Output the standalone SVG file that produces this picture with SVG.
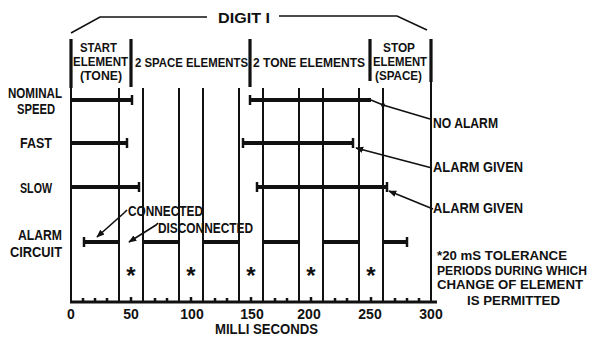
<svg xmlns="http://www.w3.org/2000/svg" width="592" height="338" viewBox="0 0 592 338">
<defs>
<style>
text{font-family:"Liberation Sans","DejaVu Sans",Arial,sans-serif;font-weight:bold;fill:#111;font-size:14px}
.c{text-anchor:middle}
.hd{font-size:12.5px}
.mid{font-size:12.5px}
.nt{font-size:12.5px}
.g{stroke:#111;stroke-width:2;fill:none}
.h{stroke:#111;stroke-width:3.2;fill:none}
.b{stroke:#111;stroke-width:4;fill:none}
.cap{stroke:#111;stroke-width:2.5;fill:none}
.ld{stroke:#111;stroke-width:1.6;fill:none}
.st{font-size:24px}
</style>
<marker id="ah" viewBox="0 0 10 10" refX="9" refY="5" markerWidth="8" markerHeight="8" orient="auto-start-reverse" markerUnits="userSpaceOnUse">
<path d="M0,1 L10,5 L0,9 z" fill="#111"/>
</marker>
</defs>
<rect width="592" height="338" fill="#fff"/>

<g id="digit-bracket">
<polyline class="ld" points="71,33 100,17 207,17"/>
<polyline class="ld" points="279,16 397,16 427,30"/>
<text x="218" y="23" textLength="52" lengthAdjust="spacingAndGlyphs" font-size="15">DIGIT I</text>
</g>

<g id="header">
<line class="h" x1="71" y1="39" x2="71" y2="88"/>
<line class="h" x1="131" y1="39" x2="131" y2="87"/>
<line class="h" x1="250" y1="39" x2="250" y2="87"/>
<line class="h" x1="370" y1="39" x2="370" y2="81"/>
<line class="h" x1="431" y1="39" x2="431" y2="82"/>
<text class="hd" x="80" y="52" textLength="37" lengthAdjust="spacingAndGlyphs">START</text>
<text class="hd" x="73" y="66" textLength="55" lengthAdjust="spacingAndGlyphs">ELEMENT</text>
<text class="hd" x="80" y="80" textLength="42" lengthAdjust="spacingAndGlyphs">(TONE)</text>
<text class="mid" x="135" y="67" textLength="113" lengthAdjust="spacingAndGlyphs">2 SPACE ELEMENTS</text>
<text class="mid" x="253" y="67" textLength="112" lengthAdjust="spacingAndGlyphs">2 TONE ELEMENTS</text>
<text class="hd" x="383" y="52" textLength="32" lengthAdjust="spacingAndGlyphs">STOP</text>
<text class="hd" x="373" y="66" textLength="54" lengthAdjust="spacingAndGlyphs">ELEMENT</text>
<text class="hd" x="375" y="80" textLength="47" lengthAdjust="spacingAndGlyphs">(SPACE)</text>
</g>

<g id="grid">
<line class="g" x1="71" y1="86" x2="71" y2="302"/>
<line class="g" x1="119" y1="88" x2="119" y2="302"/>
<line class="g" x1="143" y1="88" x2="143" y2="302"/>
<line class="g" x1="179" y1="88" x2="179" y2="302"/>
<line class="g" x1="203" y1="88" x2="203" y2="302"/>
<line class="g" x1="239" y1="88" x2="239" y2="302"/>
<line class="g" x1="263" y1="88" x2="263" y2="302"/>
<line class="g" x1="299" y1="88" x2="299" y2="302"/>
<line class="g" x1="323" y1="88" x2="323" y2="302"/>
<line class="g" x1="359" y1="88" x2="359" y2="302"/>
<line class="g" x1="383" y1="88" x2="383" y2="302"/>
<line class="g" x1="431" y1="80" x2="431" y2="302"/>
</g>

<g id="row-labels">
<text x="8" y="98" textLength="54" lengthAdjust="spacingAndGlyphs">NOMINAL</text>
<text x="17" y="114" textLength="38" lengthAdjust="spacingAndGlyphs">SPEED</text>
<text x="20" y="148" textLength="32" lengthAdjust="spacingAndGlyphs">FAST</text>
<text x="20" y="193" textLength="32" lengthAdjust="spacingAndGlyphs">SLOW</text>
<text x="18" y="240" textLength="44" lengthAdjust="spacingAndGlyphs">ALARM</text>
<text x="10" y="257" textLength="52" lengthAdjust="spacingAndGlyphs">CIRCUIT</text>
</g>

<g id="nominal-speed">
<line class="b" x1="71" y1="100" x2="132" y2="100"/>
<line class="cap" x1="132" y1="95" x2="132" y2="105"/>
<line class="cap" x1="250" y1="95" x2="250" y2="105"/>
<line class="b" x1="250" y1="100" x2="371" y2="100"/>
</g>

<g id="fast">
<line class="b" x1="71" y1="143" x2="127" y2="143"/>
<line class="cap" x1="127" y1="138" x2="127" y2="148"/>
<line class="cap" x1="243" y1="138" x2="243" y2="148"/>
<line class="b" x1="243" y1="143" x2="353" y2="143"/>
<line class="cap" x1="353" y1="138" x2="353" y2="148"/>
</g>

<g id="slow">
<line class="b" x1="71" y1="187" x2="139" y2="187"/>
<line class="cap" x1="139" y1="182" x2="139" y2="192"/>
<line class="cap" x1="257" y1="182" x2="257" y2="192"/>
<line class="b" x1="257" y1="187" x2="387" y2="187"/>
<line class="cap" x1="387" y1="182" x2="387" y2="192"/>
</g>

<g id="alarm-circuit">
<line class="cap" x1="84" y1="237" x2="84" y2="247"/>
<line class="b" x1="84" y1="242" x2="120" y2="242"/>
<line class="b" x1="143" y1="242" x2="179" y2="242"/>
<line class="b" x1="203" y1="242" x2="239" y2="242"/>
<line class="b" x1="263" y1="242" x2="299" y2="242"/>
<line class="b" x1="323" y1="242" x2="359" y2="242"/>
<line class="b" x1="383" y1="242" x2="407" y2="242"/>
<line class="cap" x1="407" y1="237" x2="407" y2="247"/>
</g>

<g id="tolerance-marks">
<text class="c st" x="131" y="284">*</text>
<text class="c st" x="191" y="284">*</text>
<text class="c st" x="251" y="284">*</text>
<text class="c st" x="311" y="284">*</text>
<text class="c st" x="371" y="284">*</text>
</g>

<g id="callouts">
<text x="128" y="216" textLength="75" lengthAdjust="spacingAndGlyphs">CONNECTED</text>
<text x="158" y="233" textLength="95" lengthAdjust="spacingAndGlyphs">DISCONNECTED</text>
<text x="433" y="128" textLength="65" lengthAdjust="spacingAndGlyphs">NO ALARM</text>
<text x="433" y="172" textLength="90" lengthAdjust="spacingAndGlyphs">ALARM GIVEN</text>
<text x="433" y="213" textLength="90" lengthAdjust="spacingAndGlyphs">ALARM GIVEN</text>
</g>

<g id="connectors">
<polyline class="ld" points="371,100 383,105 430,119"/>
<circle cx="383" cy="105" r="2" fill="#111"/>
<line class="ld" x1="432" y1="168" x2="356" y2="148" marker-end="url(#ah)"/>
<line class="ld" x1="433" y1="209" x2="389" y2="191" marker-end="url(#ah)"/>
<polyline class="ld" points="127,210 124,213 97,237" marker-end="url(#ah)"/>
<polyline class="ld" points="158,223 156,225 129,242" marker-end="url(#ah)"/>
</g>

<g id="axis">
<line stroke="#111" stroke-width="3" x1="70" y1="302" x2="437" y2="302"/>
<path class="cap" d="M83,302v-4M95,302v-4M107,302v-4M131,302v-5M155,302v-4M167,302v-4M191,302v-5M215,302v-4M227,302v-4M251,302v-5M275,302v-4M287,302v-4M311,302v-5M335,302v-4M347,302v-4M371,302v-5M395,302v-4M407,302v-4M419,302v-4"/>
<text class="c" x="71" y="319">0</text>
<text class="c" x="131" y="319">50</text>
<text class="c" x="192" y="319">100</text>
<text class="c" x="252" y="319">150</text>
<text class="c" x="309" y="319">200</text>
<text class="c" x="370" y="319">250</text>
<text class="c" x="431" y="319">300</text>
<text x="215" y="334" font-size="13" textLength="103" lengthAdjust="spacingAndGlyphs">MILLI SECONDS</text>
</g>

<g id="note">
<text class="nt" x="437" y="260" textLength="130" lengthAdjust="spacingAndGlyphs">*20 mS TOLERANCE</text>
<text class="nt" x="437" y="275" textLength="150" lengthAdjust="spacingAndGlyphs">PERIODS DURING WHICH</text>
<text class="nt" x="437" y="289" textLength="146" lengthAdjust="spacingAndGlyphs">CHANGE OF ELEMENT</text>
<text class="nt" x="467" y="305" textLength="93" lengthAdjust="spacingAndGlyphs">IS PERMITTED</text>
</g>
</svg>
